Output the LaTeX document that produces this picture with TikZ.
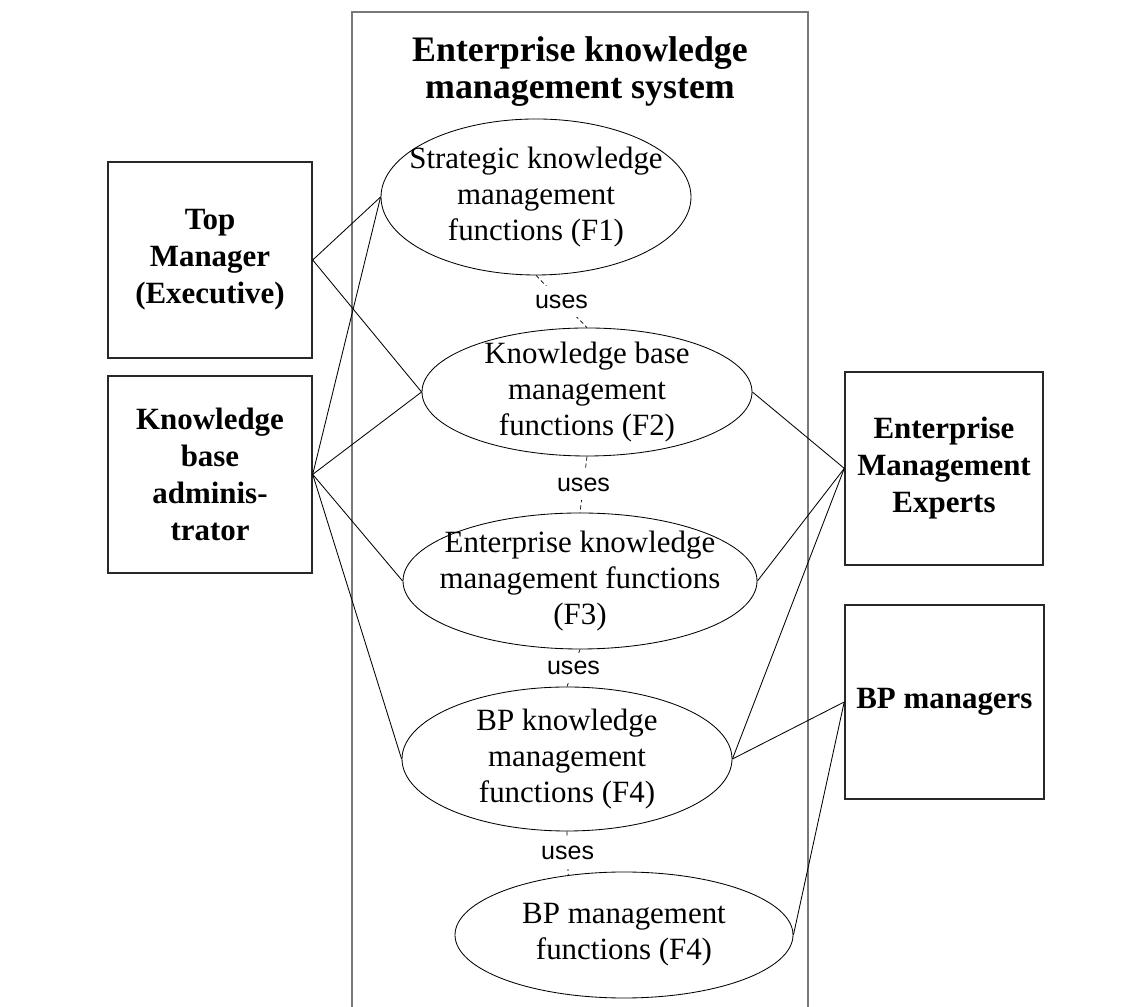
\documentclass[tikz,border=0pt]{standalone}
\usepackage{fontspec}
\setmainfont{Liberation Serif}
\newfontfamily\usesfont{Liberation Sans}
\usepackage{tikz}
\usetikzlibrary{shapes.geometric}
\definecolor{sysgray}{RGB}{120,120,120}
\definecolor{boxgray}{RGB}{40,40,40}

\begin{document}
\begin{tikzpicture}[
  actor/.style={rectangle, draw=boxgray, line width=1pt, minimum width=5.1cm, minimum height=4.9cm, align=center, font=\fontsize{22}{26.3}\selectfont\bfseries},
  usecase/.style={ellipse, draw, line width=0.6pt, inner sep=0pt},
  uctext/.style={align=center, font=\fontsize{22}{25.6}\selectfont},
  link/.style={line width=0.6pt},
  useslink/.style={line width=0.5pt, dash pattern=on 3pt off 2pt},
  uses/.style={fill=white, inner xsep=2pt, inner ysep=6pt, font=\usesfont\fontsize{17.8}{20}\selectfont}
]
\useasboundingbox (0,0) rectangle (28.5,25.15);

% System boundary
\draw[sysgray, line width=1.2pt] (8.8,-1) -- (8.8,24.85) -- (20.2,24.85) -- (20.2,-1);
\node[align=center, font=\fontsize{25.5}{26.3}\selectfont\bfseries] (title) at (14.5,23.36) {Enterprise knowledge\\management system};

% Actors
\node[actor] (tm) at (5.25,18.65) {Top\\Manager\\(Executive)};
\node[actor, minimum height=4.925cm] (kb) at (5.25,13.29) {Knowledge\\base\\adminis-\\trator};
\node[actor, minimum width=4.95cm, minimum height=4.825cm] (eme) at (23.6,13.44) {Enterprise\\Management\\Experts};
\node[actor, minimum width=4.975cm, minimum height=4.85cm] (bp) at (23.61,7.6) {BP managers};

% Use cases
\node[usecase, minimum width=7.75cm, minimum height=3.9cm] (f1) at (13.4,20.225) {};
\node[usecase, minimum width=8.25cm, minimum height=3.2cm] (f2) at (14.675,15.35) {};
\node[usecase, minimum width=8.85cm, minimum height=3.4cm] (f3) at (14.5,10.625) {};
\node[usecase, minimum width=8.25cm, minimum height=3.6cm] (f4) at (14.175,6.175) {};
\node[usecase, minimum width=8.45cm, minimum height=3.15cm] (f5) at (15.6,1.775) {};

\node[uctext] (f1t) at (f1) {Strategic knowledge\\management\\functions (F1)};
\node[uctext] (f2t) at (f2) {Knowledge base\\management\\functions (F2)};
\node[uctext] (f3t) at (f3) {Enterprise knowledge\\management functions\\(F3)};
\node[uctext] (f4t) at (f4) {BP knowledge\\management\\functions (F4)};
\node[uctext] (f5t) at (f5) {BP management\\functions (F4)};

% uses
\draw[useslink] (f1.south) -- (f2.north) node[uses, midway] (u1) {uses};
\draw[useslink] (f2.south) -- (f3.north) node[uses, midway] (u2) {uses};
\draw[useslink] (f3.south) -- (f4.north) node[uses, midway] (u3) {uses};
\draw[useslink] (f4.south) -- (f5.133) node[uses, midway] (u4) {uses};

% Associations
\draw[link] (tm.east) -- (f1.west);
\draw[link] (tm.east) -- (f2.west);
\draw[link] (kb.east) -- (f1.west);
\draw[link] (kb.east) -- (f2.west);
\draw[link] (kb.east) -- (f3.west);
\draw[link] (kb.east) -- (f4.west);
\draw[link] (eme.west) -- (f2.east);
\draw[link] (eme.west) -- (f3.east);
\draw[link] (eme.west) -- (f4.east);
\draw[link] (bp.west) -- (f4.east);
\draw[link] (bp.west) -- (f5.east);

\end{tikzpicture}
\end{document}
